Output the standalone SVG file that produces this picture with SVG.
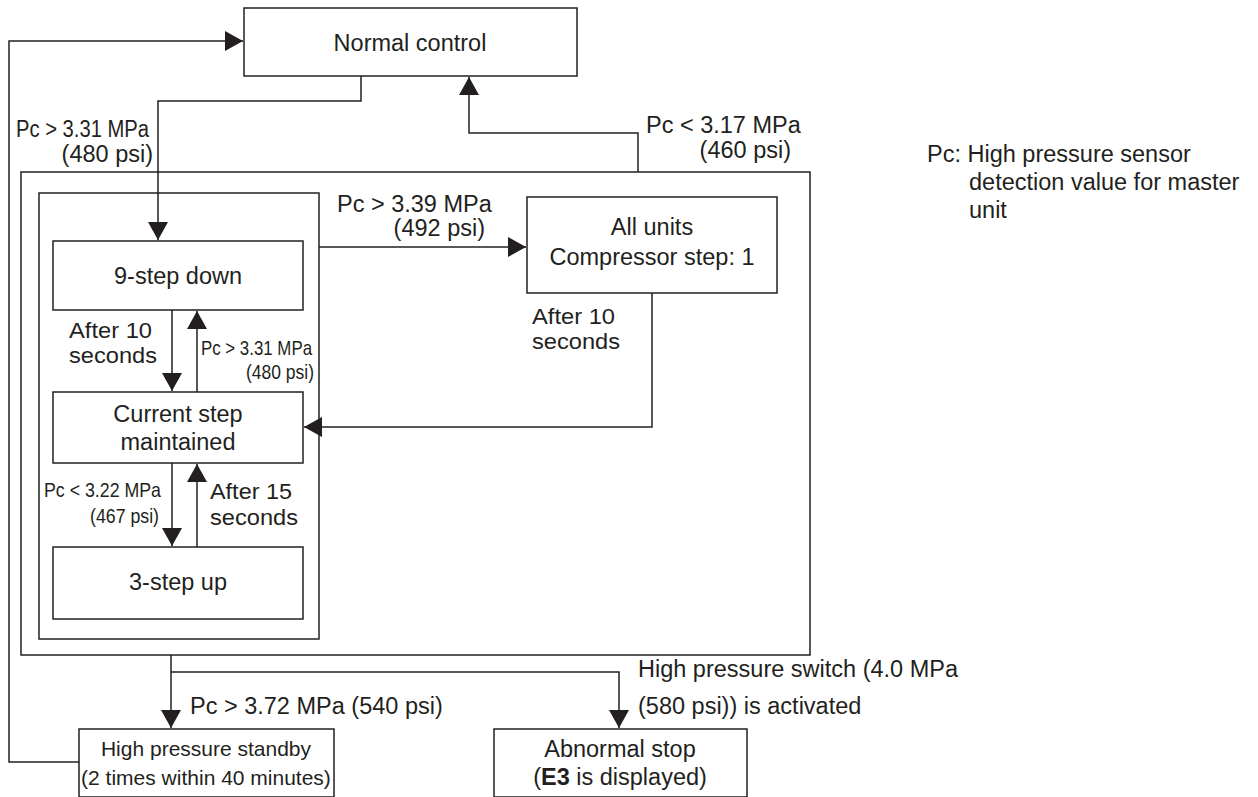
<svg xmlns="http://www.w3.org/2000/svg" width="1258" height="797" viewBox="0 0 1258 797">
<style>
.box{fill:#fff;stroke:#231f20;stroke-width:1.5}
.ln{fill:none;stroke:#231f20;stroke-width:1.5}
text{font-family:"Liberation Sans",Arial,sans-serif;fill:#231f20;font-size:23.5px}
.c{text-anchor:middle}
.e{text-anchor:end}
.s{font-size:21px}
.m{font-size:22px}
</style>
<defs>
<marker id="ah" markerUnits="userSpaceOnUse" markerWidth="18" markerHeight="20" refX="18" refY="10" orient="auto">
<path d="M0,0 L18,10 L0,20 z" fill="#231f20"/>
</marker>
</defs>
<g id="connectors">
<polyline class="ln" points="79,762 9,762 9,41 243,41" marker-end="url(#ah)"/>
<polyline class="ln" points="361,76 361,101 158,101 158,240" marker-end="url(#ah)"/>
<polyline class="ln" points="638,172 638,133 469,133 469,77" marker-end="url(#ah)"/>
<polyline class="ln" points="319,247 526,247" marker-end="url(#ah)"/>
<polyline class="ln" points="652,293 652,427 304,427" marker-end="url(#ah)"/>
<polyline class="ln" points="172,310 172,391" marker-end="url(#ah)"/>
<polyline class="ln" points="197,392 197,311" marker-end="url(#ah)"/>
<polyline class="ln" points="172,463 172,546" marker-end="url(#ah)"/>
<polyline class="ln" points="197,547 197,464" marker-end="url(#ah)"/>
<polyline class="ln" points="171,655 171,728" marker-end="url(#ah)"/>
<polyline class="ln" points="171,672 619,672 619,728" marker-end="url(#ah)"/>
</g>
<g id="outer-group"><rect class="ln" x="21" y="172" width="789" height="483"/></g>
<g id="inner-group"><rect class="ln" x="39" y="193" width="280" height="446"/></g>
<g id="normal-control">
<rect class="box" x="244" y="8" width="333" height="68"/>
<text class="c" x="410" y="51">Normal control</text>
</g>
<g id="nine-step-down">
<rect class="box" x="53" y="241" width="250" height="69"/>
<text class="c" x="178" y="284">9-step down</text>
</g>
<g id="current-step">
<rect class="box" x="53" y="392" width="250" height="71"/>
<text class="c" x="178" y="422">Current step</text>
<text class="c" x="178" y="450">maintained</text>
</g>
<g id="three-step-up">
<rect class="box" x="53" y="547" width="250" height="72"/>
<text class="c" x="178" y="590">3-step up</text>
</g>
<g id="all-units">
<rect class="box" x="527" y="197" width="250" height="96"/>
<text class="c" x="652" y="235">All units</text>
<text class="c" x="652" y="265">Compressor step: 1</text>
</g>
<g id="high-pressure-standby">
<rect class="box" x="79" y="729" width="255" height="68"/>
<text class="c s" x="206" y="756">High pressure standby</text>
<text class="c s" x="206" y="785">(2 times within 40 minutes)</text>
</g>
<g id="abnormal-stop">
<rect class="box" x="494" y="729" width="253" height="68"/>
<text class="c" x="620" y="757">Abnormal stop</text>
<text class="c" x="620" y="785">(<tspan font-weight="bold">E3</tspan> is displayed)</text>
</g>
<g id="labels">
<text x="16" y="137" textLength="133" lengthAdjust="spacingAndGlyphs">Pc &gt; 3.31 MPa</text>
<text class="e" x="153" y="162">(480 psi)</text>
<text x="646" y="133">Pc &lt; 3.17 MPa</text>
<text class="e" x="791" y="158">(460 psi)</text>
<text x="337" y="212">Pc &gt; 3.39 MPa</text>
<text class="e" x="485" y="236">(492 psi)</text>
<text class="m" x="69" y="338" textLength="83" lengthAdjust="spacingAndGlyphs">After 10</text>
<text class="m" x="69" y="363" textLength="88" lengthAdjust="spacingAndGlyphs">seconds</text>
<text class="s" x="201" y="355" textLength="111" lengthAdjust="spacingAndGlyphs">Pc &gt; 3.31 MPa</text>
<text class="s" x="246" y="379" textLength="68" lengthAdjust="spacingAndGlyphs">(480 psi)</text>
<text class="m" x="532" y="324" textLength="83" lengthAdjust="spacingAndGlyphs">After 10</text>
<text class="m" x="532" y="349" textLength="88" lengthAdjust="spacingAndGlyphs">seconds</text>
<text class="s" x="44" y="497" textLength="117" lengthAdjust="spacingAndGlyphs">Pc &lt; 3.22 MPa</text>
<text class="s" x="90" y="523" textLength="69" lengthAdjust="spacingAndGlyphs">(467 psi)</text>
<text class="m" x="210" y="499" textLength="82" lengthAdjust="spacingAndGlyphs">After 15</text>
<text class="m" x="210" y="525" textLength="88" lengthAdjust="spacingAndGlyphs">seconds</text>
<text x="190" y="714">Pc &gt; 3.72 MPa (540 psi)</text>
<text x="638" y="677">High pressure switch (4.0 MPa</text>
<text x="638" y="714">(580 psi)) is activated</text>
<text x="927" y="162">Pc: High pressure sensor</text>
<text x="969" y="190">detection value for master</text>
<text x="969" y="218">unit</text>
</g>
</svg>
